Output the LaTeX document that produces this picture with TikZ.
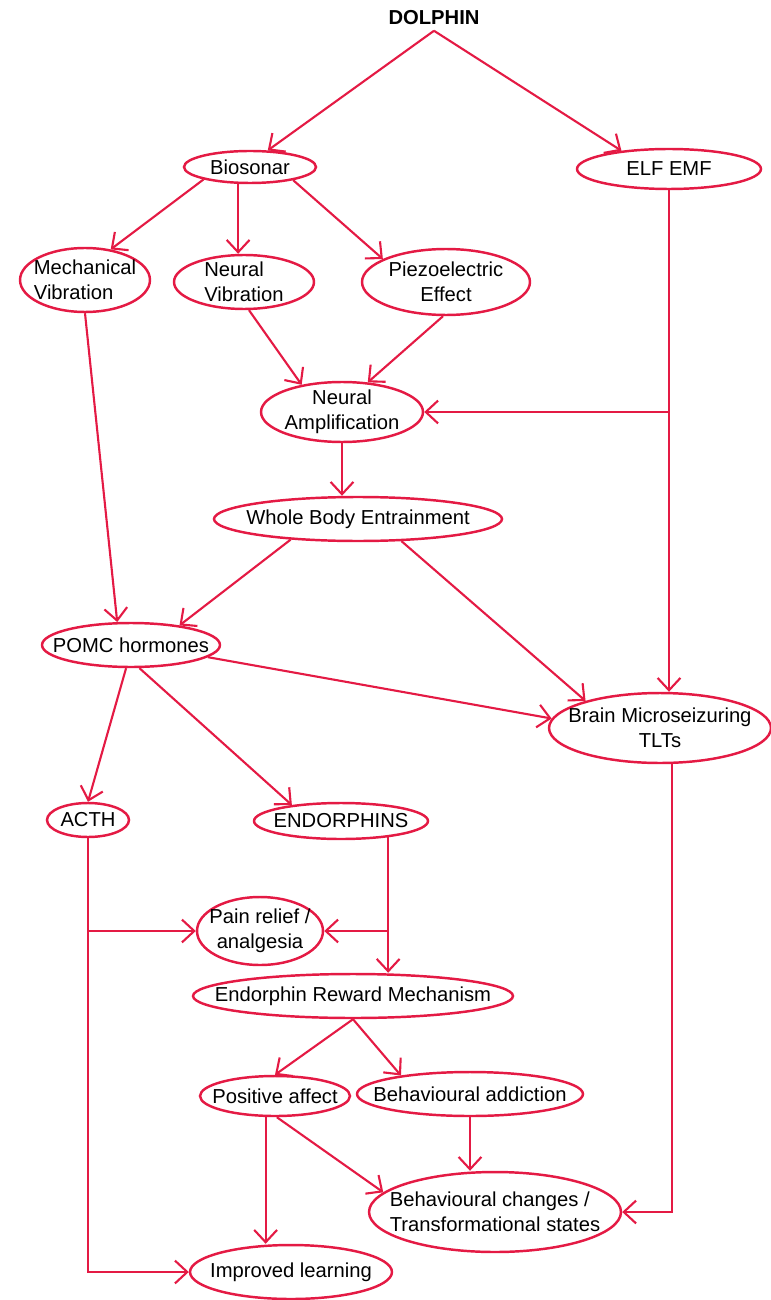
\documentclass[tikz,border=0pt]{standalone}
\usepackage{fontspec}
\setmainfont{Liberation Sans}
\usetikzlibrary{shapes.geometric,arrows.meta}
\definecolor{dred}{RGB}{228,26,68}

\tikzset{
  oval/.style 2 args={ellipse, draw=dred, line width=1.4pt, inner sep=0pt,
    minimum width=#1, minimum height=#2},
  txt/.style={font=\fontsize{11.5}{14}\selectfont, align=center, inner sep=0pt},
  arr/.style={dred, line width=1.2pt, -{Straight Barb[length=7pt,width=13pt]}},
}

\begin{document}
\begin{tikzpicture}[x=0.02cm, y=-0.02cm]
  \useasboundingbox (0,0) rectangle (770,1300);
  % nodes
  \node[txt, inner sep=3pt, font=\fontsize{11.5}{14}\selectfont\bfseries] (dolphin) at (434,18) {DOLPHIN};
  \node[oval={2.64cm}{0.64cm}, label={[txt]center:Biosonar}] (biosonar) at (250,167) {};
  \node[oval={3.68cm}{0.80cm}, label={[txt]center:ELF EMF}] (elf) at (669,169) {};
  \node[oval={2.60cm}{1.28cm}, label={[txt, align=left]center:{Mechanical\\Vibration}}] (mech) at (85,280) {};
  \node[oval={2.80cm}{1.08cm}, label={[txt, align=left]center:{Neural\\Vibration}}] (nvib) at (244,282) {};
  \node[oval={3.36cm}{1.32cm}, label={[txt]center:{Piezoelectric\\Effect}}] (piezo) at (446,282) {};
  \node[oval={3.24cm}{1.20cm}, label={[txt]center:{Neural\\Amplification}}] (namp) at (342,412) {};
  \node[oval={5.76cm}{0.88cm}, label={[txt]center:Whole Body Entrainment}] (wbe) at (358,519) {};
  \node[oval={3.56cm}{0.88cm}, label={[txt]center:POMC hormones}] (pomc) at (131,645) {};
  \node[oval={4.44cm}{1.40cm}, label={[txt]center:{Brain Microseizuring\\TLTs}}] (brain) at (660,728) {};
  \node[oval={1.64cm}{0.68cm}, label={[txt]center:ACTH}] (acth) at (88,820) {};
  \node[oval={3.48cm}{0.72cm}, label={[txt]center:ENDORPHINS}] (endo) at (341,821) {};
  \node[oval={2.52cm}{1.36cm}, label={[txt]center:{Pain relief /\\analgesia}}] (pain) at (260,931) {};
  \node[oval={6.40cm}{0.88cm}, label={[txt]center:Endorphin Reward Mechanism}] (erm) at (353,996) {};
  \node[oval={3.00cm}{0.80cm}, label={[txt]center:Positive affect}] (posaff) at (275,1096) {};
  \node[oval={4.52cm}{0.88cm}, label={[txt]center:Behavioural addiction}] (addict) at (470,1094) {};
  \node[oval={5.04cm}{1.60cm}, label={[txt, align=left]center:{Behavioural changes /\\Transformational states}}] (behav) at (495,1212) {};
  \node[oval={4.04cm}{1.08cm}, label={[txt]center:Improved learning}] (learn) at (291,1272) {};
  % connectors
  \draw[arr] (dolphin.south) -- (biosonar.43);
  \draw[arr] (dolphin.south) -- (elf.159);
  \draw[arr] (biosonar.195) -- (mech.50);
  \draw[arr] (biosonar.235) -- (biosonar.235 |- nvib.north);
  \draw[arr] (biosonar.343) -- (piezo.160);
  \draw[arr] (nvib.280) -- (namp.146);
  \draw[arr] (piezo.265) -- (namp.49);
  \draw[arr] (elf.south) -- (elf.south |- brain.north);
  \coordinate (elfj) at (elf.south |- namp.east);
  \draw[arr] (elfj) -- (namp.east);
  \draw[arr] (namp.south) -- (namp.south |- wbe.north);
  \draw[arr] (wbe.197) -- (pomc.22);
  \draw[arr] (wbe.333) -- (brain.160);
  \draw[arr] (mech.south) -- (pomc.121);
  \draw[arr] (pomc.351) -- (brain.175);
  \draw[arr] (pomc.258) -- (acth.north);
  \draw[arr] (pomc.290) -- (endo.162);
  \draw[arr] (acth.south) |- (learn.west);
  \draw[arr] (acth.south |- pain.west) -- (pain.west);
  \draw[arr] (endo.341) -- (endo.341 |- erm.north);
  \draw[arr] (endo.341 |- pain.east) -- (pain.east);
  \draw[arr] (erm.south) -- (posaff.north);
  \draw[arr] (erm.south) -- (addict.165);
  \draw[arr] (posaff.246) -- (posaff.246 |- learn.north);
  \draw[arr] (posaff.275) -- (behav.170);
  \draw[arr] (addict.south) -- (addict.south |- behav.north);
  \draw[arr] (brain.288) |- (behav.east);
\end{tikzpicture}
\end{document}
